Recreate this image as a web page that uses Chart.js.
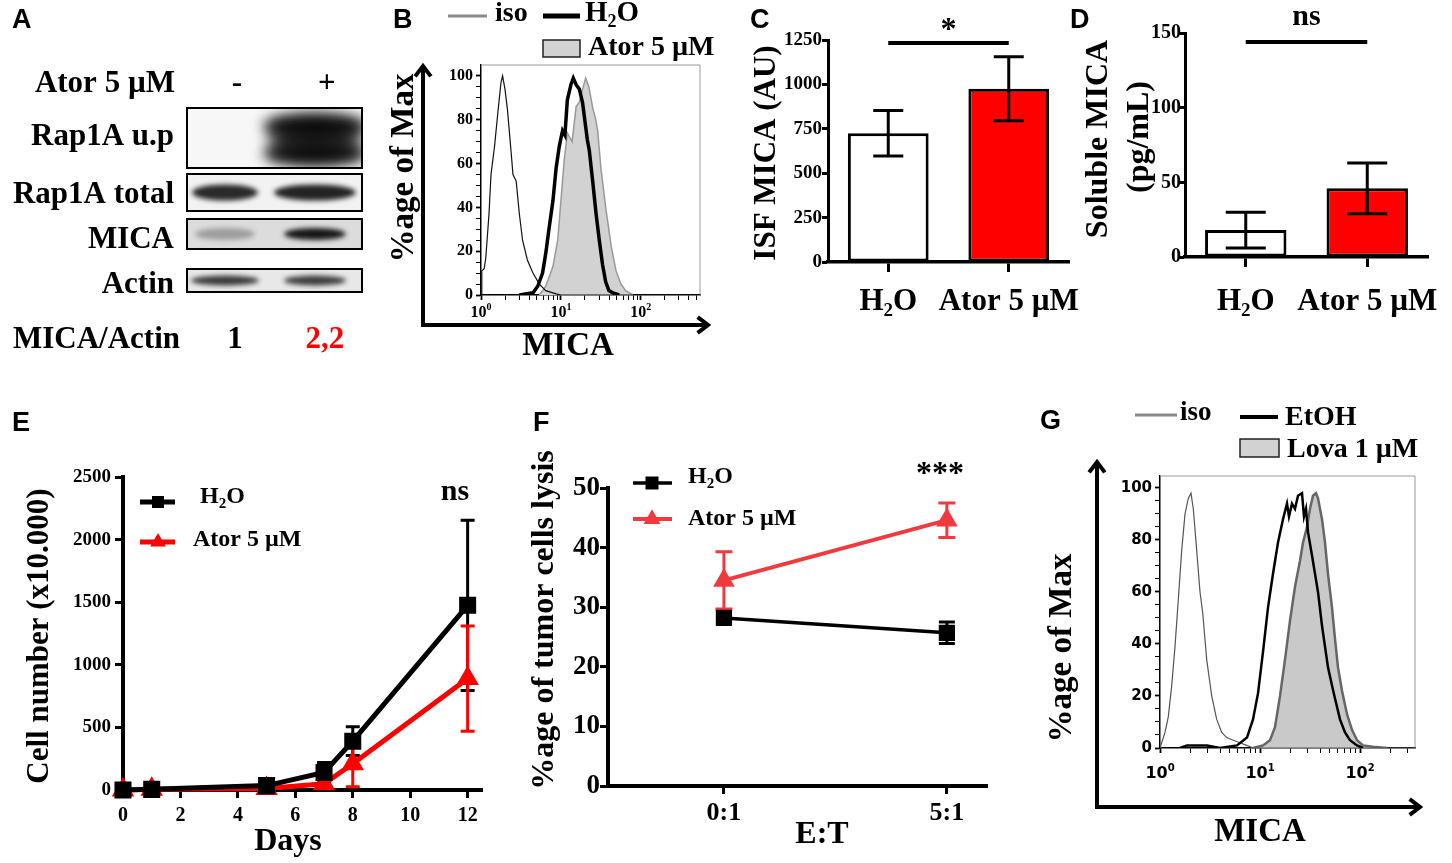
<!DOCTYPE html>
<html>
<head>
<meta charset="utf-8">
<script src="https://cdn.jsdelivr.net/npm/chart.js"></script>
<style>
  body { margin: 0; background: #fff; }
  #fig { position: relative; width: 1452px; height: 863px; overflow: hidden; background: #fff; }
  canvas { position: absolute; }
</style>
</head>
<body>
<div id="fig">
  <canvas id="pA"></canvas>
  <canvas id="pB"></canvas>
  <canvas id="pC"></canvas>
  <canvas id="pD"></canvas>
  <canvas id="pE"></canvas>
  <canvas id="pF"></canvas>
  <canvas id="pG"></canvas>
</div>
<script>
const SERIF = "'Liberation Serif', 'Times New Roman', serif";
const SANS = "'Liberation Sans', Arial, sans-serif";
const DEJA = "'DejaVu Sans', sans-serif";
const RED = '#ff0000';
const RED2 = '#f03a3e';

// ---- A: western blot ----
const blotRows = ['Rap1A u.p', 'Rap1A total', 'MICA', 'Actin'];
const blotLanes = ['-', '+'];
const bandDensity = [[0, 1], [0.88, 0.9], [0.3, 0.95], [0.8, 0.78]];
const micaActin = ['1', '2,2'];

// ---- B: flow histogram (x = log10 MICA, y = % of max) ----
const bIsoLog = [0, 0.01, 0.04, 0.06, 0.10, 0.125, 0.17, 0.21, 0.25, 0.27, 0.30, 0.33, 0.375, 0.40, 0.44, 0.48, 0.52, 0.58, 0.65, 0.73, 0.81, 0.94, 1.0, 2.74];
const bIsoPct = [0, 11, 12, 17, 37, 55, 68, 83, 97, 100, 94, 85, 66, 55, 52, 37, 25, 16, 10, 5, 2, 0.5, 0, 0];
const bH2OLog = [0.48, 0.65, 0.71, 0.77, 0.81, 0.85, 0.90, 0.94, 0.98, 1.02, 1.05, 1.08, 1.125, 1.155, 1.19, 1.23, 1.27, 1.33, 1.355, 1.40, 1.44, 1.48, 1.52, 1.56, 1.60, 1.65, 1.73];
const bH2OPct = [0, 1, 4, 10, 19, 30, 43, 58, 68, 75, 73, 89, 96, 99, 96, 94, 88, 71, 66, 51, 37, 25, 14, 6, 2, 1, 0];
const bAtorLog = [0.73, 0.81, 0.90, 0.96, 1.0, 1.04, 1.08, 1.14, 1.19, 1.23, 1.27, 1.31, 1.35, 1.40, 1.43, 1.46, 1.50, 1.56, 1.63, 1.69, 1.75, 1.81, 1.90];
const bAtorPct = [0, 4, 13, 25, 43, 61, 74, 70, 86, 88, 94, 99, 95, 85, 81, 75, 58, 40, 22, 11, 5, 2, 0];

// ---- C / D: bars ----
const barCats = ['H_2O', 'Ator 5 µM'];
const cMean = [725, 975];
const cErr = [128, 180];
const cSig = 1233;
const dMean = [18, 46];
const dErr = [12, 17];
const dSig = 144;

// ---- E: growth ----
const eDays = [0, 1, 5, 7, 8, 12];
const eH2O = [0, 5, 35, 140, 390, 1475];
const eH2OErr = [0, 0, 10, 80, 115, 680];
const eAtor = [0, 5, 12, 50, 210, 890];
const eAtorErr = [0, 0, 5, 25, 185, 420];

// ---- F: lysis ----
const fCats = ['0:1', '5:1'];
const fH2O = [28.2, 25.7];
const fH2OErr = [0.8, 1.8];
const fAtor = [34.5, 44.6];
const fAtorErr = [4.8, 2.9];

// ---- G: flow histogram ----
const gIsoLog = [0, 0.017, 0.05, 0.083, 0.117, 0.15, 0.183, 0.217, 0.25, 0.283, 0.31, 0.333, 0.367, 0.40, 0.427, 0.467, 0.517, 0.567, 0.617, 0.667, 0.733, 0.80, 0.867, 0.933, 2.55];
const gIsoPct = [0, 2, 6, 12, 24, 39, 57, 76, 90, 96, 98, 92, 76, 60, 52, 34, 20, 11, 6, 4, 3, 2, 1, 0, 0];
const gEtohLog = [0.2, 0.27, 0.47, 0.6, 0.77, 0.87, 0.93, 0.98, 1.03, 1.08, 1.13, 1.18, 1.23, 1.27, 1.29, 1.32, 1.35, 1.38, 1.42, 1.44, 1.46, 1.48, 1.52, 1.55, 1.58, 1.62, 1.65, 1.68, 1.72, 1.75, 1.80, 1.85, 1.90, 1.97, 2.03];
const gEtohPct = [0, 1, 1, 0, 1, 4, 11, 21, 37, 54, 67, 79, 88, 94, 89, 94, 92, 97, 98, 89, 92, 83, 74, 67, 60, 47, 39, 31, 24, 19, 11, 6, 3, 1, 0];
const gLovaLog = [0.93, 1.03, 1.10, 1.15, 1.20, 1.25, 1.30, 1.35, 1.40, 1.43, 1.47, 1.50, 1.53, 1.56, 1.58, 1.62, 1.65, 1.68, 1.72, 1.75, 1.78, 1.82, 1.87, 1.92, 1.97, 2.03, 2.13, 2.27];
const gLovaPct = [0, 1, 3, 8, 20, 34, 49, 62, 72, 79, 85, 92, 97, 98, 96, 88, 79, 67, 54, 42, 31, 22, 13, 7, 3, 1, 0.5, 0];

Chart.defaults.font.family = SERIF;
Chart.defaults.color = '#000';
Chart.defaults.plugins.legend.display = false;
Chart.defaults.plugins.tooltip.enabled = false;

const pts = (xs, ys) => xs.map((x, i) => ({ x: x, y: ys[i] }));
const tf = (size, fam) => ({ family: fam || SERIF, size: size, weight: 'bold' });
const axGrid = (len, w) => ({ drawOnChartArea: false, drawTicks: true, tickLength: len, tickWidth: w, tickColor: '#000' });
const plain = v => String(v);

// text with _x subscript and ^x superscript
function rich(ctx, s, x, y, size, font, align, color) {
  const segs = [];
  for (let i = 0; i < s.length; i++) {
    const c = s[i];
    if ((c === '_' || c === '^') && i + 1 < s.length) { segs.push([s[i + 1], c]); i++; }
    else segs.push([c, '']);
  }
  const big = 'bold ' + size + 'px ' + font;
  const small = 'bold ' + Math.round(size * 0.62) + 'px ' + font;
  let w = 0;
  segs.forEach(g => { ctx.font = g[1] ? small : big; g.push(ctx.measureText(g[0]).width); w += g[2]; });
  let cx = align === 'center' ? x - w / 2 : align === 'right' ? x - w : x;
  ctx.fillStyle = color || '#000';
  ctx.textBaseline = 'middle';
  ctx.textAlign = 'left';
  segs.forEach(g => {
    ctx.font = g[1] ? small : big;
    const dy = g[1] === '_' ? size * 0.3 : g[1] === '^' ? -size * 0.32 : 0;
    ctx.fillText(g[0], cx, y + dy);
    cx += g[2];
  });
}
function vtext(ctx, s, x, y, size, font) {
  ctx.save(); ctx.translate(x, y); ctx.rotate(-Math.PI / 2);
  rich(ctx, s, 0, 0, size, font, 'center');
  ctx.restore();
}
function base(ctx, s, x, y, size, font, align) {
  ctx.font = 'bold ' + size + 'px ' + font;
  ctx.fillStyle = '#000'; ctx.textAlign = align || 'center'; ctx.textBaseline = 'alphabetic';
  ctx.fillText(s, x, y);
}
function letter(ctx, s, x, y) { base(ctx, s, x, y, 27, SANS, 'left'); }
function seg(ctx, x1, y1, x2, y2, color, w) {
  ctx.save(); ctx.strokeStyle = color; ctx.lineWidth = w;
  ctx.beginPath(); ctx.moveTo(x1, y1); ctx.lineTo(x2, y2); ctx.stroke(); ctx.restore();
}
function arrow(ctx, x1, y1, x2, y2, w) {
  const a = Math.atan2(y2 - y1, x2 - x1), L = 13, s = 0.65;
  ctx.save(); ctx.strokeStyle = '#000'; ctx.lineWidth = w; ctx.lineJoin = 'miter';
  ctx.beginPath(); ctx.moveTo(x1, y1); ctx.lineTo(x2, y2);
  ctx.moveTo(x2 - L * Math.cos(a - s), y2 - L * Math.sin(a - s));
  ctx.lineTo(x2, y2);
  ctx.lineTo(x2 - L * Math.cos(a + s), y2 - L * Math.sin(a + s));
  ctx.stroke(); ctx.restore();
}
function marker(ctx, style, x, y, s, color) {
  ctx.save(); ctx.fillStyle = color;
  if (style === 'rect') ctx.fillRect(x - s / 2, y - s / 2, s, s);
  else { ctx.beginPath(); ctx.moveTo(x, y - s * 0.62); ctx.lineTo(x + s * 0.6, y + s * 0.42); ctx.lineTo(x - s * 0.6, y + s * 0.42); ctx.closePath(); ctx.fill(); }
  ctx.restore();
}
function errBars(chart, di, errs, half, color, lw) {
  const meta = chart.getDatasetMeta(di), ys = chart.scales.y, ctx = chart.ctx;
  const vals = chart.data.datasets[di].data;
  ctx.save(); ctx.strokeStyle = color; ctx.lineWidth = lw;
  meta.data.forEach((el, i) => {
    const e = errs[i]; if (!e) return;
    const v = typeof vals[i] === 'object' ? vals[i].y : vals[i];
    const yt = ys.getPixelForValue(v + e), yb = ys.getPixelForValue(Math.max(v - e, ys.min));
    ctx.beginPath();
    ctx.moveTo(el.x, yt); ctx.lineTo(el.x, yb);
    ctx.moveTo(el.x - half, yt); ctx.lineTo(el.x + half, yt);
    ctx.moveTo(el.x - half, yb); ctx.lineTo(el.x + half, yb);
    ctx.stroke();
  });
  ctx.restore();
}
function page(c, ox, oy, fn) { const ctx = c.ctx; ctx.save(); ctx.translate(-ox, -oy); fn(ctx); ctx.restore(); }

function mount(id, box, area, yW, xH, cfg) {
  const cv = document.getElementById(id);
  cv.width = box.w; cv.height = box.h;
  cv.style.left = box.x + 'px'; cv.style.top = box.y + 'px';
  const o = cfg.options = cfg.options || {};
  o.responsive = false; o.maintainAspectRatio = false; o.animation = false; o.events = [];
  o.layout = { autoPadding: false, padding: {
    left: area.l - box.x - yW, right: box.x + box.w - area.r,
    top: area.t - box.y, bottom: box.y + box.h - area.b - xH } };
  if (o.scales.y.display !== false) o.scales.y.afterFit = s => { s.width = yW; };
  if (o.scales.x.display !== false) o.scales.x.afterFit = s => { s.height = xH; };
  return new Chart(cv, cfg);
}

// ===== A =====
const blotBox = [[108, 168], [174, 211], [219, 249], [269, 292]];
const blotBg = ['#f7f7f7', '#f2f2f2', '#dcdcdc', '#e8e8e8'];
const bandHalf = [[40, 50], [33, 41], [30, 31], [34, 31]];
const bandHalfH = [12, 8, 6, 5];
const rowLabelY = [137, 195, 240, 285];
mount('pA', { x: 0, y: 0, w: 380, h: 380 }, { l: 187, r: 362, t: 108, b: 292 }, 0, 0, {
  type: 'scatter', data: { datasets: [] },
  options: { scales: { x: { display: false, min: -0.456, max: 1.49 }, y: { display: false, min: 0, max: 1 } } },
  plugins: [{ id: 'blot', afterDraw(c) {
    const ctx = c.ctx, xs = c.scales.x, l = c.chartArea.left, r = c.chartArea.right;
    letter(ctx, 'A', 12, 28);
    rich(ctx, 'Ator 5 µM', 175, 84, 31, SERIF, 'right');
    blotLanes.forEach((s, i) => rich(ctx, s, xs.getPixelForValue(i) + 9, 84, 31, SERIF, 'center'));
    blotRows.forEach((name, ri) => {
      const t = blotBox[ri][0], b = blotBox[ri][1];
      ctx.save();
      ctx.fillStyle = blotBg[ri]; ctx.fillRect(l, t, r - l, b - t);
      ctx.beginPath(); ctx.rect(l, t, r - l, b - t); ctx.clip();
      ctx.filter = ri === 0 ? 'blur(7px)' : 'blur(2.5px)';
      bandDensity[ri].forEach((d, li) => {
        if (!d) return;
        const cx = xs.getPixelForValue(li) - 3;
        ctx.fillStyle = 'rgba(12,12,12,' + d + ')';
        const passes = ri === 0 ? 2 : 1;
        for (let p = 0; p < passes; p++) {
          if (ri === 0) {
            ctx.beginPath(); ctx.ellipse(cx, t + 19, bandHalf[ri][li], bandHalfH[ri], 0, 0, Math.PI * 2); ctx.fill();
            ctx.beginPath(); ctx.ellipse(cx, t + 45, bandHalf[ri][li], bandHalfH[ri] - 1, 0, 0, Math.PI * 2); ctx.fill();
            ctx.fillStyle = 'rgba(12,12,12,' + (d * 0.6) + ')';
            ctx.beginPath(); ctx.ellipse(cx, t + 32, bandHalf[ri][li] - 6, 10, 0, 0, Math.PI * 2); ctx.fill();
          } else {
            ctx.beginPath(); ctx.ellipse(cx, (t + b) / 2, bandHalf[ri][li], bandHalfH[ri], 0, 0, Math.PI * 2); ctx.fill();
          }
        }
      });
      ctx.restore();
      ctx.strokeStyle = '#000'; ctx.lineWidth = 2; ctx.strokeRect(l, t, r - l, b - t);
      rich(ctx, name, 174, rowLabelY[ri], 31, SERIF, 'right');
    });
    rich(ctx, 'MICA/Actin', 13, 340, 31, SERIF, 'left');
    micaActin.forEach((s, i) => rich(ctx, s, xs.getPixelForValue(i) + 7, 340, 31, SERIF, 'center', i ? RED : '#000'));
  } }]
});

// ===== flow histogram helper =====
const pctTicks = Array.from({ length: 21 }, (_, i) => i * 5);
function logTicks(max) {
  const t = [];
  for (let d = 0; d < 3; d++) for (let k = 1; k < 10; k++) { const v = d + Math.log10(k); if (v <= max) t.push(v); }
  return t;
}
const isDecade = v => Math.abs(v - Math.round(v)) < 1e-9;
function flowOpts(xmax, ymax, yFont) {
  return {
    elements: { point: { radius: 0 }, line: { tension: 0 } },
    scales: {
      x: { type: 'linear', min: 0, max: xmax,
        afterBuildTicks: s => { s.ticks = logTicks(xmax).map(v => ({ value: v })); },
        ticks: { autoSkip: false, callback: () => '' },
        grid: { drawOnChartArea: false, tickLength: 5, tickColor: '#000', tickWidth: c => (c.tick && isDecade(c.tick.value)) ? 1.8 : 1 },
        border: { color: '#000', width: 1.5 } },
      y: { min: 0, max: ymax,
        afterBuildTicks: s => { s.ticks = pctTicks.map(v => ({ value: v })); },
        ticks: { autoSkip: false, callback: v => v % 20 === 0 ? String(v) : '', font: yFont, color: '#000', padding: 3 },
        grid: { drawOnChartArea: false, tickLength: 5, tickColor: '#000', tickWidth: c => (c.tick && c.tick.value % 20 === 0) ? 1.8 : 1 },
        border: { color: '#000', width: 1.5 } }
    }
  };
}
function frameTR(c) {
  const a = c.chartArea, ctx = c.ctx;
  ctx.save(); ctx.strokeStyle = '#9a9a9a'; ctx.lineWidth = 1;
  ctx.beginPath(); ctx.moveTo(a.left, a.top); ctx.lineTo(a.right, a.top); ctx.lineTo(a.right, a.bottom); ctx.stroke();
  ctx.restore();
}

// ===== B =====
mount('pB', { x: 380, y: 0, w: 340, h: 380 }, { l: 481, r: 700, t: 65, b: 295 }, 50, 10, {
  type: 'line',
  data: { datasets: [
    { data: pts(bH2OLog, bH2OPct), borderColor: '#000', borderWidth: 3.5 },
    { data: pts(bIsoLog, bIsoPct), borderColor: '#111', borderWidth: 1.2 },
    { data: pts(bAtorLog, bAtorPct), borderColor: '#999', borderWidth: 1.5, fill: 'origin', backgroundColor: '#d2d2d2' }
  ] },
  options: flowOpts(2.74, 105, tf(16)),
  plugins: [{ id: 'b', beforeDatasetsDraw: frameTR, afterDraw(c) {
    const xs = c.scales.x;
    page(c, 380, 0, ctx => {
      [0, 1, 2].forEach(d => rich(ctx, '10^' + d, xs.getPixelForValue(d) + 380, 313, 16, SERIF, 'center'));
      letter(ctx, 'B', 393, 28);
      seg(ctx, 448, 16, 487, 16, '#8a8a8a', 3);
      rich(ctx, 'iso', 495, 14, 28, SERIF, 'left');
      seg(ctx, 543, 16, 580, 16, '#000', 5);
      rich(ctx, 'H_2O', 585, 14, 29, SERIF, 'left');
      ctx.fillStyle = '#d2d2d2'; ctx.fillRect(543, 40, 37, 17);
      ctx.strokeStyle = '#222'; ctx.lineWidth = 1.5; ctx.strokeRect(543, 40, 37, 17);
      rich(ctx, 'Ator 5 µM', 588, 48, 28, SERIF, 'left');
      arrow(ctx, 423, 327, 423, 66, 4);
      arrow(ctx, 421, 325, 708, 325, 4);
      vtext(ctx, '%age of Max', 404, 168, 33, SERIF);
      rich(ctx, 'MICA', 568, 346, 33, SERIF, 'center');
    });
  } }]
});

// ===== bar helper =====
function barOpts(max, step, tickSize, tickPad) {
  return {
    scales: {
      x: { grid: { drawOnChartArea: false, offset: false, tickLength: 10, tickWidth: 3, tickColor: '#000' },
        border: { width: 3.5, color: '#000' }, ticks: { callback: () => '' } },
      y: { min: 0, max: max, ticks: { stepSize: step, callback: plain, font: tf(tickSize), color: '#000', padding: tickPad },
        grid: axGrid(6, 3), border: { width: 3, color: '#000' } }
    }
  };
}
function barSet(vals) {
  return { data: vals, backgroundColor: ['#fff', RED], borderColor: '#000', borderWidth: 3,
    borderSkipped: false, barPercentage: 0.67, categoryPercentage: 1 };
}
function sigBar(c, v, w) {
  const xs = c.scales.x, y = c.scales.y.getPixelForValue(v);
  seg(c.ctx, xs.getPixelForValue(0), y, xs.getPixelForValue(1), y, '#000', w);
}

// ===== C =====
mount('pC', { x: 720, y: 0, w: 370, h: 330 }, { l: 828, r: 1069, t: 40, b: 262 }, 50, 12, {
  type: 'bar',
  data: { labels: barCats, datasets: [barSet(cMean)] },
  options: barOpts(1250, 250, 19, 0),
  plugins: [{ id: 'c', afterDatasetsDraw(c) { errBars(c, 0, cErr, 15, '#000', 3); }, afterDraw(c) {
    const xs = c.scales.x, ctx = c.ctx;
    sigBar(c, cSig, 4);
    base(ctx, '*', (xs.getPixelForValue(0) + xs.getPixelForValue(1)) / 2, 39, 32, SERIF, 'center');
    page(c, 720, 0, ctx => {
      letter(ctx, 'C', 750, 28);
      barCats.forEach((s, i) => rich(ctx, s, xs.getPixelForValue(i) + 720, 302, 31, SERIF, 'center'));
      vtext(ctx, 'ISF MICA (AU)', 767, 153, 31, SERIF);
    });
  } }]
});

// ===== D =====
mount('pD', { x: 1060, y: 0, w: 392, h: 330 }, { l: 1185, r: 1428, t: 33, b: 257 }, 50, 12, {
  type: 'bar',
  data: { labels: barCats, datasets: [barSet(dMean)] },
  options: barOpts(150, 50, 20, -2),
  plugins: [{ id: 'd', afterDatasetsDraw(c) { errBars(c, 0, dErr, 20, '#000', 3); }, afterDraw(c) {
    const xs = c.scales.x, ctx = c.ctx;
    sigBar(c, dSig, 4);
    base(ctx, 'ns', (xs.getPixelForValue(0) + xs.getPixelForValue(1)) / 2, 25, 30, SERIF, 'center');
    page(c, 1060, 0, ctx => {
      letter(ctx, 'D', 1070, 28);
      barCats.forEach((s, i) => rich(ctx, s, xs.getPixelForValue(i) + 1060, 302, 31, SERIF, 'center'));
      vtext(ctx, 'Soluble MICA', 1099, 139, 32, SERIF);
      vtext(ctx, '(pg/mL)', 1140, 137, 32, SERIF);
    });
  } }]
});

// ===== E =====
mount('pE', { x: 0, y: 400, w: 520, h: 463 }, { l: 123, r: 482, t: 477, b: 790 }, 50, 40, {
  type: 'line',
  data: { datasets: [
    { data: pts(eDays, eH2O), borderColor: '#000', borderWidth: 5, pointStyle: 'rect', pointRadius: 8.5,
      pointBackgroundColor: '#000', pointBorderColor: '#000', clip: 14 },
    { data: pts(eDays, eAtor), borderColor: RED, borderWidth: 5, pointStyle: 'triangle', pointRadius: 8,
      pointBackgroundColor: RED, pointBorderColor: RED, clip: 14 }
  ] },
  options: { elements: { line: { tension: 0 } }, scales: {
    x: { type: 'linear', min: 0, max: 12.5, ticks: { stepSize: 2, includeBounds: false, callback: plain, font: tf(20), color: '#000', padding: 6 },
      grid: axGrid(8, 3), border: { width: 4, color: '#000' } },
    y: { min: 0, max: 2500, ticks: { stepSize: 500, callback: plain, font: tf(19), color: '#000', padding: 4 },
      grid: axGrid(8, 3), border: { width: 4, color: '#000' } }
  } },
  plugins: [{ id: 'e', beforeDatasetsDraw(c) {
    errBars(c, 0, eH2OErr, 7, '#000', 3); errBars(c, 1, eAtorErr, 7, RED, 3);
  }, afterDraw(c) {
    page(c, 0, 400, ctx => {
      letter(ctx, 'E', 12, 431);
      seg(ctx, 140, 502, 175, 502, '#000', 5); marker(ctx, 'rect', 158, 502, 12, '#000');
      rich(ctx, 'H_2O', 200, 497, 24, SERIF, 'left');
      seg(ctx, 140, 542, 175, 542, RED, 5); marker(ctx, 'tri', 158, 541, 13, RED);
      rich(ctx, 'Ator 5 µM', 193, 540, 24, SERIF, 'left');
      base(ctx, 'ns', 455, 500, 30, SERIF, 'center');
      vtext(ctx, 'Cell number (x10.000)', 40, 636, 31, SERIF);
      rich(ctx, 'Days', 288, 842, 32, SERIF, 'center');
    });
  } }]
});

// ===== F =====
mount('pF', { x: 520, y: 400, w: 500, h: 463 }, { l: 608, r: 987, t: 488, b: 786 }, 60, 40, {
  type: 'line',
  data: { datasets: [
    { data: pts([0, 1], fH2O), borderColor: '#000', borderWidth: 3.5, pointStyle: 'rect', pointRadius: 9,
      pointBackgroundColor: '#000', pointBorderColor: '#000', clip: 14 },
    { data: pts([0, 1], fAtor), borderColor: RED2, borderWidth: 4, pointStyle: 'triangle', pointRadius: 8.5,
      pointBackgroundColor: RED2, pointBorderColor: RED2, clip: 14 }
  ] },
  options: { elements: { line: { tension: 0 } }, scales: {
    x: { type: 'linear', min: -0.52, max: 1.18,
      afterBuildTicks: s => { s.ticks = fCats.map((_, i) => ({ value: i })); },
      ticks: { autoSkip: false, callback: (v, i) => fCats[i], font: tf(26), color: '#000', padding: 4 },
      grid: axGrid(8, 3), border: { width: 4, color: '#000' } },
    y: { min: 0, max: 50, ticks: { stepSize: 10, callback: plain, font: tf(27), color: '#000', padding: 0 },
      grid: axGrid(8, 3), border: { width: 4, color: '#000' } }
  } },
  plugins: [{ id: 'f', beforeDatasetsDraw(c) {
    errBars(c, 0, fH2OErr, 8, '#000', 3); errBars(c, 1, fAtorErr, 8.5, RED2, 3);
  }, afterDraw(c) {
    page(c, 520, 400, ctx => {
      letter(ctx, 'F', 533, 431);
      seg(ctx, 633, 483, 672, 483, '#000', 3.5); marker(ctx, 'rect', 652, 483, 13, '#000');
      rich(ctx, 'H_2O', 688, 477, 24, SERIF, 'left');
      seg(ctx, 633, 519, 672, 519, RED2, 4); marker(ctx, 'tri', 652, 518, 14, RED2);
      rich(ctx, 'Ator 5 µM', 688, 519, 24, SERIF, 'left');
      base(ctx, '***', 940, 483, 32, SERIF, 'center');
      vtext(ctx, '%age of tumor cells lysis', 545, 620, 32, SERIF);
      rich(ctx, 'E:T', 822, 835, 32, SERIF, 'center');
    });
  } }]
});

// ===== G =====
mount('pG', { x: 1020, y: 390, w: 432, h: 473 }, { l: 1160, r: 1415, t: 476, b: 748 }, 50, 10, {
  type: 'line',
  data: { datasets: [
    { data: pts(gEtohLog, gEtohPct), borderColor: '#000', borderWidth: 2.5 },
    { data: pts(gIsoLog, gIsoPct), borderColor: '#555', borderWidth: 1.2 },
    { data: pts(gLovaLog, gLovaPct), borderColor: '#666', borderWidth: 2.5, fill: 'origin', backgroundColor: '#c9c9c9' }
  ] },
  options: flowOpts(2.55, 104.6, tf(15, DEJA)),
  plugins: [{ id: 'g', beforeDatasetsDraw: frameTR, afterDraw(c) {
    const xs = c.scales.x;
    page(c, 1020, 390, ctx => {
      [0, 1, 2].forEach(d => rich(ctx, '10^' + d, xs.getPixelForValue(d) + 1020, 774, 16, DEJA, 'center'));
      letter(ctx, 'G', 1040, 429);
      seg(ctx, 1135, 415, 1177, 415, '#8a8a8a', 3);
      rich(ctx, 'iso', 1180, 413, 27, SERIF, 'left');
      seg(ctx, 1240, 417, 1278, 417, '#000', 4);
      rich(ctx, 'EtOH', 1285, 418, 28, SERIF, 'left');
      ctx.fillStyle = '#d2d2d2'; ctx.fillRect(1240, 439, 39, 18);
      ctx.strokeStyle = '#222'; ctx.lineWidth = 1.5; ctx.strokeRect(1240, 439, 39, 18);
      rich(ctx, 'Lova 1 µM', 1287, 450, 28, SERIF, 'left');
      arrow(ctx, 1097, 809, 1097, 462, 4);
      arrow(ctx, 1095, 807, 1420, 807, 4);
      vtext(ctx, '%age of Max', 1062, 648, 33, SERIF);
      rich(ctx, 'MICA', 1260, 832, 33, SERIF, 'center');
    });
  } }]
});
</script>
</body>
</html>
